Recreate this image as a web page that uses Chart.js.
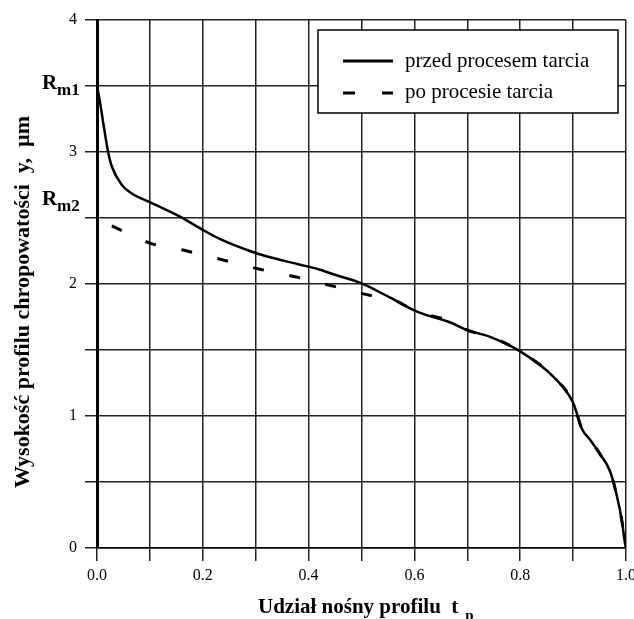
<!DOCTYPE html>
<html>
<head>
<meta charset="utf-8">
<script src="https://cdn.jsdelivr.net/npm/chart.js@4.4.1/dist/chart.umd.min.js"></script>
<style>
  html, body { margin: 0; padding: 0; background: #fff; }
  #wrap { width: 634px; height: 619px; position: relative; }
</style>
</head>
<body>
<div id="wrap"><canvas id="c" width="634" height="619"></canvas></div>
<script>
// ---- data ----
const seriesNames = ['przed procesem tarcia', 'po procesie tarcia'];
const tBefore = [0, 0.006, 0.011, 0.017, 0.021, 0.028, 0.047, 0.068, 0.10, 0.157, 0.20, 0.233, 0.289, 0.32, 0.38, 0.42, 0.45, 0.497, 0.548, 0.605, 0.667, 0.70, 0.743, 0.80, 0.862, 0.90, 0.917, 0.932, 0.951, 0.97, 0.983, 0.992, 0.998, 1.0];
const yBefore = [3.5, 3.37, 3.24, 3.09, 3.0, 2.89, 2.75, 2.68, 2.62, 2.51, 2.41, 2.34, 2.25, 2.21, 2.15, 2.11, 2.07, 2.01, 1.91, 1.79, 1.71, 1.65, 1.60, 1.49, 1.30, 1.10, 0.90, 0.82, 0.71, 0.58, 0.39, 0.21, 0.04, 0];
const tAfter = [0.028, 0.10, 0.17, 0.24, 0.31, 0.38, 0.45, 0.52, 0.56, 0.605, 0.667, 0.70, 0.743, 0.80, 0.862, 0.90, 0.917, 0.932, 0.951, 0.97, 0.983, 0.992, 1.0];
const yAfter = [2.44, 2.31, 2.25, 2.18, 2.11, 2.05, 1.98, 1.91, 1.88, 1.79, 1.72, 1.65, 1.60, 1.49, 1.30, 1.10, 0.90, 0.82, 0.71, 0.58, 0.39, 0.21, 0];
const yTickLabels = {0: '0', 1: '1', 2: '2', 3: '3', 4: '4'};
const xTickLabels = {0: '0.0', 2: '0.2', 4: '0.4', 6: '0.6', 8: '0.8', 10: '1.0'};
const rLevels = [{value: 3.5, sub: 'm1'}, {value: 2.5, sub: 'm2'}];
const xTitle = 'Udział nośny profilu  t';
const xTitleSub = 'p';
const yTitle = 'Wysokość profilu chropowatości  y,  µm';

const pts = (xs, ys) => xs.map((x, i) => ({x: x, y: ys[i]}));

const SERIF = '"Liberation Serif", "DejaVu Serif", serif';

const overlay = {
  id: 'overlay',
  afterDraw(chart) {
    const ctx = chart.ctx;
    const ys = chart.scales.y;
    ctx.save();
    ctx.fillStyle = '#000';
    rLevels.forEach((r, i) => {
      const py = ys.getPixelForValue(r.value);
      const base = i === 0 ? py + 3 : py - 13;
      ctx.font = 'bold 21px ' + SERIF;
      ctx.textAlign = 'left';
      ctx.textBaseline = 'alphabetic';
      ctx.fillText('R', 42, base);
      ctx.font = 'bold 17px ' + SERIF;
      ctx.fillText(r.sub, 57, base + 6);
    });
    ctx.save();
    ctx.translate(23, 302);
    ctx.rotate(-Math.PI / 2);
    ctx.font = 'bold 22px ' + SERIF;
    ctx.textAlign = 'center';
    ctx.textBaseline = 'middle';
    ctx.fillText(yTitle, 0, 0);
    ctx.restore();
    ctx.font = 'bold 21px ' + SERIF;
    ctx.textAlign = 'left';
    ctx.textBaseline = 'alphabetic';
    ctx.fillText(xTitle, 258, 613);
    const w = ctx.measureText(xTitle).width;
    ctx.font = 'bold 15px ' + SERIF;
    ctx.fillText(xTitleSub, 258 + w + 7, 620);
    const L = 318, T = 30, R = 618, B = 113;
    ctx.fillStyle = '#fff';
    ctx.fillRect(L, T, R - L, B - T);
    ctx.strokeStyle = '#000';
    ctx.lineWidth = 1.5;
    ctx.strokeRect(L, T, R - L, B - T);
    ctx.lineWidth = 3;
    ctx.beginPath();
    ctx.moveTo(343, 61); ctx.lineTo(393, 61);
    ctx.stroke();
    ctx.beginPath();
    ctx.moveTo(343, 93); ctx.lineTo(355, 93);
    ctx.moveTo(382, 93); ctx.lineTo(393, 93);
    ctx.stroke();
    ctx.fillStyle = '#000';
    ctx.font = '21px ' + SERIF;
    ctx.textBaseline = 'middle';
    ctx.fillText(seriesNames[0], 405, 61);
    ctx.fillText(seriesNames[1], 405, 92);
    ctx.restore();
  }
};

new Chart(document.getElementById('c'), {
  type: 'line',
  data: {
    datasets: [
      {
        label: seriesNames[0],
        data: pts(tBefore, yBefore),
        borderColor: '#000',
        borderWidth: 2.5,
        pointRadius: 0,
        fill: false,
        cubicInterpolationMode: 'monotone'
      },
      {
        label: seriesNames[1],
        data: pts(tAfter, yAfter),
        borderColor: '#000',
        borderWidth: 3,
        borderDash: [11, 26],
        pointRadius: 0,
        fill: false,
        cubicInterpolationMode: 'monotone'
      }
    ]
  },
  options: {
    responsive: false,
    animation: false,
    events: [],
    layout: { padding: { top: 20, right: 8, left: 0, bottom: 0 } },
    plugins: { legend: { display: false }, tooltip: { enabled: false }, title: { display: false } },
    scales: {
      x: {
        type: 'linear',
        min: 0, max: 1,
        grid: { color: '#222', lineWidth: 1.5, tickLength: 13, drawTicks: true },
        border: { color: '#000', width: 1.5 },
        ticks: {
          stepSize: 0.1, autoSkip: false, maxRotation: 0, padding: 5,
          color: '#000', font: { family: SERIF, size: 16 },
          callback: (v) => { const k = Math.round(v * 10); return xTickLabels[k] !== undefined ? xTickLabels[k] : ''; }
        },
        afterFit: (s) => { s.height = 71; s.paddingLeft = 0; s.paddingRight = 0; }
      },
      y: {
        type: 'linear',
        min: 0, max: 4,
        grid: { color: '#222', lineWidth: 1.5, tickLength: 12, drawTicks: true },
        border: { color: '#000', width: 3 },
        ticks: {
          stepSize: 0.5, autoSkip: false, padding: 8,
          color: '#000', font: { family: SERIF, size: 16 },
          callback: (v) => { const k = Math.round(v * 2); return (k % 2 === 0 && yTickLabels[k / 2] !== undefined) ? yTickLabels[k / 2] : ''; }
        },
        afterFit: (s) => { s.width = 97; s.paddingTop = 0; s.paddingBottom = 0; }
      }
    }
  },
  plugins: [overlay]
});
</script>
</body>
</html>
